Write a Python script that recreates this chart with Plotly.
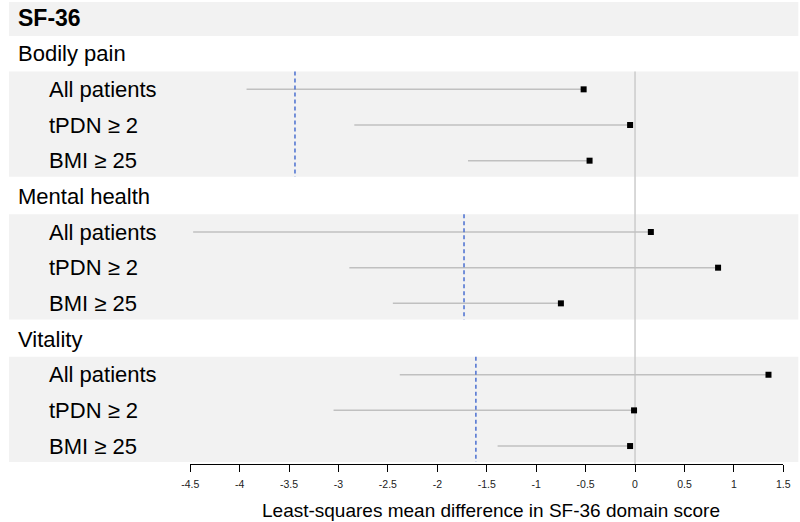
import plotly.graph_objects as go

title = "SF-36"
groups = ["Bodily pain", "Mental health", "Vitality"]
subgroups = ["All patients", "tPDN ≥ 2", "BMI ≥ 25"]
estimates = [[-0.52, -0.05, -0.46], [0.16, 0.84, -0.75], [1.35, -0.01, -0.05]]
lower = [[-3.93, -2.84, -1.69], [-4.47, -2.89, -2.45], [-2.38, -3.05, -1.39]]
thresholds = [-3.44, -1.73, -1.61]
tick_vals = [-4.5, -4, -3.5, -3, -2.5, -2, -1.5, -1, -0.5, 0, 0.5, 1, 1.5]
tick_text = ["-4.5", "-4", "-3.5", "-3", "-2.5", "-2", "-1.5", "-1", "-0.5", "0", "0.5", "1", "1.5"]
x_title = "Least-squares mean difference in SF-36 domain score"

# the viewer shows the page horizontally at ~0.98 scale with an ~8px offset;
# horizontal positions below are picture pixels converted to figure pixels
S, O = 0.98, 8
W, H = 808, 522
FONT = "Arial, Liberation Sans, sans-serif"


def px(r):
    return (r / S - O) / W


def py(r):
    return 1 - r / H


ROW0, STEP = 18.0, 35.67  # picture pixels
AXIS_Y = 464
y_top = (0 - ROW0) / STEP
y_bot = (AXIS_Y - ROW0) / STEP

fig = go.Figure()
shapes = []
annotations = []

BX0, BX1 = max(0.0, px(3)), min(1.0, px(797))

# title band
shapes.append(dict(type="rect", xref="paper", yref="paper", x0=BX0, x1=BX1,
                   y0=py(36), y1=py(2), fillcolor="#f2f2f2", line_width=0, layer="below"))
annotations.append(dict(text="<b>" + title + "</b>", xref="paper", yref="y", x=px(14.5), y=0,
                        xanchor="left", yanchor="middle", showarrow=False,
                        font=dict(family=FONT, size=23, color="#000")))

row = 1
xs_pts, ys_pts = [], []
for gi, g in enumerate(groups):
    annotations.append(dict(text=g, xref="paper", yref="y", x=px(14.5), y=row,
                            xanchor="left", yanchor="middle", showarrow=False,
                            font=dict(family=FONT, size=22, color="#000")))
    first = row + 1
    last = row + len(subgroups)
    shapes.append(dict(type="rect", xref="paper", yref="y", x0=BX0, x1=BX1,
                       y0=first - 0.5, y1=last + 0.45, fillcolor="#f2f2f2",
                       line_width=0, layer="below"))
    shapes.append(dict(type="line", xref="x", yref="y", x0=thresholds[gi], x1=thresholds[gi],
                       y0=first - 0.5, y1=last + 0.45,
                       line=dict(color="#4a6fd0", width=1.5, dash="4px,3px")))
    for si, s in enumerate(subgroups):
        r = first + si
        annotations.append(dict(text=s, xref="paper", yref="y", x=px(45.5), y=r,
                                xanchor="left", yanchor="middle", showarrow=False,
                                font=dict(family=FONT, size=22, color="#000")))
        fig.add_trace(go.Scatter(x=[lower[gi][si], estimates[gi][si]], y=[r, r],
                                 mode="lines", line=dict(color="#c0c0c0", width=1.5),
                                 showlegend=False, hoverinfo="skip"))
        xs_pts.append(estimates[gi][si])
        ys_pts.append(r)
    row = last + 1

# zero reference line
shapes.append(dict(type="line", xref="x", yref="y", x0=0, x1=0, y0=1.5, y1=y_bot,
                   line=dict(color="#cccccc", width=1.5), layer="below"))

fig.add_trace(go.Scatter(x=xs_pts, y=ys_pts, mode="markers",
                         marker=dict(symbol="square", size=6, color="#000"),
                         showlegend=False))

annotations.append(dict(text=x_title, xref="paper", yref="paper", x=px(490),
                        y=py(510), xanchor="center", yanchor="middle", showarrow=False,
                        font=dict(family=FONT, size=19, color="#000")))

fig.update_layout(
    width=W, height=H, margin=dict(l=0, r=0, t=0, b=0),
    paper_bgcolor="white", plot_bgcolor="rgba(0,0,0,0)",
    shapes=shapes, annotations=annotations,
    xaxis=dict(domain=[px(189), px(782)], range=[-4.5, 1.5], tickvals=tick_vals,
               ticktext=tick_text, showgrid=False, zeroline=False, showline=True,
               linecolor="#000", linewidth=1, ticks="outside", ticklen=7,
               tickcolor="#000", tickwidth=1, ticklabelstandoff=3,
               tickfont=dict(family=FONT, size=10.5, color="#222")),
    yaxis=dict(domain=[py(AXIS_Y), 1], range=[y_bot, y_top], visible=False,
               showgrid=False, zeroline=False),
)

fig.write_html("out.html")
